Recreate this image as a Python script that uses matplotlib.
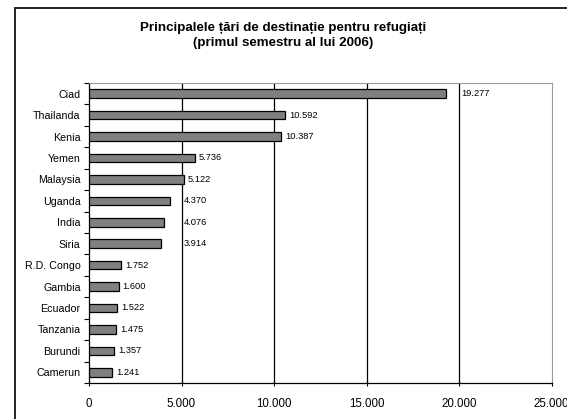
import matplotlib
matplotlib.use('Agg')
import matplotlib.pyplot as plt
from matplotlib.patches import Rectangle
from matplotlib.ticker import FuncFormatter, FixedLocator

plt.rcParams['font.family'] = ['Liberation Sans', 'DejaVu Sans']

TITLE = 'Principalele țări de destinație pentru refugiați\n(primul semestru al lui 2006)'
countries = ['Ciad', 'Thailanda', 'Kenia', 'Yemen', 'Malaysia', 'Uganda', 'India',
             'Siria', 'R.D. Congo', 'Gambia', 'Ecuador', 'Tanzania', 'Burundi', 'Camerun']
refugees = [19277, 10592, 10387, 5736, 5122, 4370, 4076,
            3914, 1752, 1600, 1522, 1475, 1357, 1241]
x_ticks = [0, 5000, 10000, 15000, 20000, 25000]


def thousands(v, pos=None):
    return f'{int(v):,}'.replace(',', '.')


fig = plt.figure(figsize=(5.67, 4.19), dpi=100)
ax = fig.add_axes([89 / 567, 1 - 383 / 419, (551.5 - 89) / 567, 300 / 419])

# outer chart border (runs off the right and bottom of the picture)
fig.patches.append(Rectangle((15 / 567, -0.05), 1.1, 1 - 8 / 419 + 0.05,
                             transform=fig.transFigure, fill=False,
                             edgecolor='#222222', linewidth=1.4))

fig.text(0.5, 1 - 35.5 / 419, TITLE, ha='center', va='center', fontsize=9.6,
         fontweight='bold', linespacing=1.25)

y = list(range(len(countries)))
ax.barh(y, refugees, height=0.4, color='#808080', edgecolor='black',
        linewidth=0.9, zorder=3)

ax.set_xlim(0, 25000)
ax.set_ylim(len(countries) - 0.5, -0.5)
ax.xaxis.set_major_locator(FixedLocator(x_ticks))
ax.xaxis.set_major_formatter(FuncFormatter(thousands))
ax.set_yticks(y)
ax.set_yticklabels(countries)
ax.yaxis.set_minor_locator(FixedLocator([i - 0.5 for i in range(len(countries) + 1)]))

ax.tick_params(axis='y', which='major', length=0, pad=6, labelsize=7.7)
ax.tick_params(axis='y', which='minor', length=3.5, width=0.8, direction='out')
ax.tick_params(axis='x', which='major', length=4, width=0.8, direction='inout',
               pad=8.5, labelsize=8.3)

for g in x_ticks[1:-1]:
    ax.axvline(g, color='black', linewidth=0.9, zorder=1)

ax.spines['left'].set_color('black')
ax.spines['bottom'].set_color('black')
ax.spines['left'].set_linewidth(0.9)
ax.spines['bottom'].set_linewidth(0.9)
ax.spines['top'].set_color('#9a9a9a')
ax.spines['right'].set_color('#9a9a9a')

# value labels, nudged past a gridline if they would sit on it
fig.canvas.draw()
renderer = fig.canvas.get_renderer()
units_per_px = 25000 / ax.get_window_extent().width
for yi, v in zip(y, refugees):
    t = ax.text(v + 4 * units_per_px, yi, thousands(v), va='center', ha='left',
                fontsize=6.7, zorder=4)
    bb = t.get_window_extent(renderer).transformed(ax.transData.inverted())
    for g in x_ticks[1:-1]:
        if bb.x0 < g < bb.x1:
            t.set_x(g + 2 * units_per_px)

fig.savefig('out.png', dpi=100)
